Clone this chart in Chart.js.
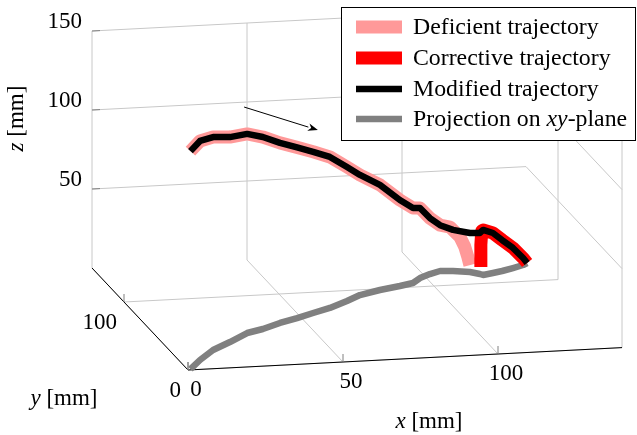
<!DOCTYPE html>
<html>
<head>
<meta charset="utf-8">
<script src="https://cdn.jsdelivr.net/npm/chart.js@4/dist/chart.umd.min.js"></script>
<style>html,body{margin:0;padding:0;background:#fff;}canvas{display:block;}</style>
</head>
<body>
<canvas id="c" width="637" height="435"></canvas>
<script>
// ---------- data (mm) ----------
const seriesLabels = ['Deficient trajectory', 'Corrective trajectory', 'Modified trajectory', 'Projection on xy-plane'];

const modX = [1, 6.6, 13.5, 21.0, 28.9, 34.9, 41.9, 48.6, 55.0, 61.6, 68.9, 74.6, 82.2, 89.5, 94.4, 98.0, 102.2, 106.2, 110.2, 115.1, 117.6, 118.3, 121.9, 125.3, 129.5, 133.5, 135.3];
const modY = [1, 13.2, 26.2, 36.2, 47.6, 52.1, 59.3, 65.0, 70.9, 76.7, 85.3, 92.7, 98.3, 102.5, 105.7, 112.2, 117.1, 120.6, 119.7, 117.0, 113.5, 111.9, 114.0, 116.1, 119.5, 123.0, 125.5];
const modZ = [138, 138.6, 134.8, 129.7, 126, 121.5, 114, 108, 102, 95.6, 84.8, 76, 66.5, 54.4, 47.5, 44.3, 35.4, 29, 26, 24.7, 26, 28.5, 25.3, 19.6, 12.7, 4.4, 0];

const defX = [1, 6.6, 13.5, 21.0, 28.9, 34.9, 41.9, 48.6, 55.0, 61.6, 68.9, 74.6, 82.2, 89.5, 94.4, 98.0, 102.2, 106.2, 109.3, 112.2, 113.6, 114.5, 115.1];
const defY = [1, 13.2, 26.2, 36.2, 47.6, 52.1, 59.3, 65.0, 70.9, 76.7, 85.3, 92.7, 98.3, 102.5, 105.7, 112.2, 117.1, 120.6, 119.9, 118.6, 117.8, 117.4, 117.0];
const defZ = [138, 138.6, 134.8, 129.7, 126, 121.5, 114, 108, 102, 95.6, 84.8, 76, 66.5, 54.4, 47.5, 44.3, 35.4, 29, 27.8, 21.8, 15.8, 9.5, 4.4];

const corX = [117.8, 117.8, 118.0, 118.3, 121.9, 125.3, 129.5, 133.5, 135.3];
const corY = [113.0, 113.0, 112.6, 111.9, 114.0, 116.1, 119.5, 123.0, 125.5];
const corZ = [4.6, 18.6, 27.5, 28.5, 25.3, 19.6, 12.7, 4.4, 0];

const xTicks = [0, 50, 100];
const yTicks = [0, 100];
const zTicks = [50, 100, 150];
const xRange = [0, 140];
const yRange = [0, 150];
const zRange = [0, 150];

// arrow annotation (3D, mm)
const arrowFrom = [18.1, 0, 164.6];
const arrowTo = [41.9, 0, 147.6];

// ---------- view (projection of 3D onto the 2D view plane) ----------
const VIEW = { ox: 188, oy: 370, ex: [3.10, -0.16], ey: [-0.64, -0.68], ez: [0, -1.58] };
function proj(x, y, z) {
  return { x: VIEW.ox + VIEW.ex[0] * x + VIEW.ey[0] * y + VIEW.ez[0] * z,
           y: VIEW.oy + VIEW.ex[1] * x + VIEW.ey[1] * y + VIEW.ez[1] * z };
}
function toPts(X, Y, Z) { return X.map((v, i) => proj(v, Y[i], Z[i])); }
const zeros = modX.map(() => 0);

const FONT = '"Liberation Serif", "Times New Roman", serif';
const FS = 23;
const LFS = 23.8;

function px(chart, p) {
  return [chart.scales.x.getPixelForValue(p.x), chart.scales.y.getPixelForValue(p.y)];
}
function seg(chart, a, b, color, w) {
  const ctx = chart.ctx;
  const A = px(chart, proj(...a)), B = px(chart, proj(...b));
  ctx.beginPath(); ctx.moveTo(A[0], A[1]); ctx.lineTo(B[0], B[1]);
  ctx.strokeStyle = color; ctx.lineWidth = w; ctx.stroke();
}
function richText(ctx, parts, x, y, align, size) {
  const fs = size || FS;
  let total = 0;
  parts.forEach(p => { ctx.font = (p.i ? 'italic ' : '') + fs + 'px ' + FONT; p.w = ctx.measureText(p.t).width; total += p.w; });
  let cx = align === 'center' ? x - total / 2 : (align === 'right' ? x - total : x);
  ctx.textAlign = 'left';
  parts.forEach(p => { ctx.font = (p.i ? 'italic ' : '') + fs + 'px ' + FONT; ctx.fillText(p.t, cx, y); cx += p.w; });
}

const gridPlugin = {
  id: 'box3d',
  beforeDatasetsDraw(chart) {
    const ctx = chart.ctx; ctx.save(); ctx.lineCap = 'butt';
    const G = '#c8c8c8';
    const [x0, x1] = xRange, [y0, y1] = yRange, [z0, z1] = zRange;
    // back wall (y = max)
    xTicks.forEach(t => seg(chart, [t, y1, z0], [t, y1, z1], G, 1));
    zTicks.forEach(t => seg(chart, [x0, y1, t], [x1, y1, t], G, 1));
    // right wall (x = max)
    yTicks.forEach(t => seg(chart, [x1, t, z0], [x1, t, z1], G, 1));
    zTicks.forEach(t => seg(chart, [x1, y0, t], [x1, y1, t], G, 1));
    // floor (z = 0)
    xTicks.forEach(t => seg(chart, [t, y0, z0], [t, y1, z0], G, 1));
    yTicks.forEach(t => seg(chart, [x0, t, z0], [x1, t, z0], G, 1));
    // axis lines
    seg(chart, [x0, y0, z0], [x1, y0, z0], '#000', 1);
    seg(chart, [x0, y0, z0], [x0, y1, z0], '#000', 1);
    // tick marks
    const TK = '#808080';
    xTicks.forEach(t => { const p = px(chart, proj(t, y0, z0)); ctx.beginPath(); ctx.moveTo(p[0], p[1]); ctx.lineTo(p[0], p[1] - 8); ctx.strokeStyle = TK; ctx.lineWidth = 1; ctx.stroke(); });
    yTicks.forEach(t => { const p = px(chart, proj(x0, t, z0)); ctx.beginPath(); ctx.moveTo(p[0], p[1]); ctx.lineTo(p[0], p[1] - 8); ctx.strokeStyle = TK; ctx.lineWidth = 1; ctx.stroke(); });
    zTicks.forEach(t => { const p = px(chart, proj(x0, y1, t)); ctx.beginPath(); ctx.moveTo(p[0], p[1]); ctx.lineTo(p[0] + 8, p[1] - 0.4); ctx.strokeStyle = TK; ctx.lineWidth = 1; ctx.stroke(); });
    ctx.restore();
  },
  afterDatasetsDraw(chart) {
    const ctx = chart.ctx; ctx.save();
    // arrow
    const A = px(chart, proj(...arrowFrom)), B = px(chart, proj(...arrowTo));
    const ang = Math.atan2(B[1] - A[1], B[0] - A[0]);
    const hl = 10, hw = 3.8;
    const bx = B[0] - hl * Math.cos(ang), by = B[1] - hl * Math.sin(ang);
    ctx.beginPath(); ctx.moveTo(A[0], A[1]); ctx.lineTo(bx, by);
    ctx.strokeStyle = '#000'; ctx.lineWidth = 1; ctx.stroke();
    ctx.beginPath(); ctx.moveTo(B[0], B[1]);
    ctx.lineTo(bx + hw * Math.sin(ang), by - hw * Math.cos(ang));
    ctx.lineTo(bx + 3 * Math.cos(ang), by + 3 * Math.sin(ang));
    ctx.lineTo(bx - hw * Math.sin(ang), by + hw * Math.cos(ang));
    ctx.closePath(); ctx.fillStyle = '#000'; ctx.fill();

    // tick labels
    ctx.fillStyle = '#000'; ctx.textBaseline = 'middle';
    ctx.font = FS + 'px ' + FONT;
    zTicks.forEach(t => { const p = px(chart, proj(xRange[0], yRange[1], t)); ctx.textAlign = 'right'; ctx.fillText(String(t), p[0] - 10, p[1] - 9); });
    yTicks.forEach(t => { const p = px(chart, proj(xRange[0], t, zRange[0])); ctx.textAlign = 'right'; ctx.fillText(String(t), p[0] - 7, p[1] + 21); });
    xTicks.forEach(t => { const p = px(chart, proj(t, yRange[0], zRange[0])); ctx.textAlign = 'center'; ctx.fillText(String(t), p[0] + 8, p[1] + 20); });

    // axis labels
    const xl = px(chart, proj((xRange[0] + xRange[1]) / 2, yRange[0], zRange[0]));
    richText(ctx, [{ t: 'x', i: true }, { t: ' [mm]' }], xl[0] + 24, xl[1] + 63, 'center');
    const yl = px(chart, proj(xRange[0], (yRange[0] + yRange[1]) / 2, zRange[0]));
    richText(ctx, [{ t: 'y', i: true }, { t: ' [mm]' }], yl[0] - 76, yl[1] + 80, 'center');
    const zl = px(chart, proj(xRange[0], yRange[1], (zRange[0] + zRange[1]) / 2));
    ctx.save(); ctx.translate(zl[0] - 75, zl[1] - 31); ctx.rotate(-Math.PI / 2);
    richText(ctx, [{ t: 'z', i: true }, { t: ' [mm]' }], 0, 0, 'center');
    ctx.restore();
    ctx.restore();
  },
  afterDraw(chart) {
    // legend box
    const ctx = chart.ctx; ctx.save();
    const L = 341, T = 7, R = 636, Bt = 141;
    ctx.fillStyle = '#fff'; ctx.fillRect(L, T, R - L, Bt - T);
    ctx.strokeStyle = '#000'; ctx.lineWidth = 1; ctx.strokeRect(L + 0.5, T + 0.5, R - L - 1, Bt - T - 1);
    const rows = [27, 58, 89, 119];
    chart.data.datasets.forEach((ds, i) => {
      ctx.beginPath(); ctx.moveTo(356, rows[i]); ctx.lineTo(402, rows[i]);
      ctx.strokeStyle = ds.borderColor; ctx.lineWidth = ds.borderWidth; ctx.lineCap = 'butt'; ctx.stroke();
      ctx.fillStyle = '#000'; ctx.textBaseline = 'middle';
      if (i === 3) {
        richText(ctx, [{ t: 'Projection on ' }, { t: 'xy', i: true }, { t: '-plane' }], 413, rows[i] + 1, 'left', LFS);
      } else {
        ctx.font = LFS + 'px ' + FONT; ctx.textAlign = 'left';
        ctx.fillText(ds.label, 413, rows[i] + 1);
      }
    });
    ctx.restore();
  }
};

const common = { showLine: true, fill: false, pointRadius: 0, pointHoverRadius: 0, tension: 0, borderJoinStyle: 'round', borderCapStyle: 'butt' };

new Chart(document.getElementById('c'), {
  type: 'scatter',
  data: {
    datasets: [
      Object.assign({ label: seriesLabels[0], data: toPts(defX, defY, defZ), borderColor: '#ff9999', backgroundColor: '#ff9999', borderWidth: 13, order: 3 }, common),
      Object.assign({ label: seriesLabels[1], data: toPts(corX, corY, corZ), borderColor: '#ff0000', backgroundColor: '#ff0000', borderWidth: 13, order: 2 }, common),
      Object.assign({ label: seriesLabels[2], data: toPts(modX, modY, modZ), borderColor: '#000000', backgroundColor: '#000000', borderWidth: 6.5, order: 1 }, common),
      Object.assign({ label: seriesLabels[3], data: toPts(modX, modY, zeros), borderColor: '#808080', backgroundColor: '#808080', borderWidth: 6.5, order: 4 }, common)
    ]
  },
  options: {
    responsive: false,
    animation: false,
    devicePixelRatio: 1,
    layout: { padding: 0 },
    plugins: { legend: { display: false }, tooltip: { enabled: false } },
    scales: {
      x: { type: 'linear', min: 0, max: 637, display: false },
      y: { type: 'linear', min: 0, max: 435, reverse: true, display: false }
    }
  },
  plugins: [gridPlugin]
});
</script>
</body>
</html>
